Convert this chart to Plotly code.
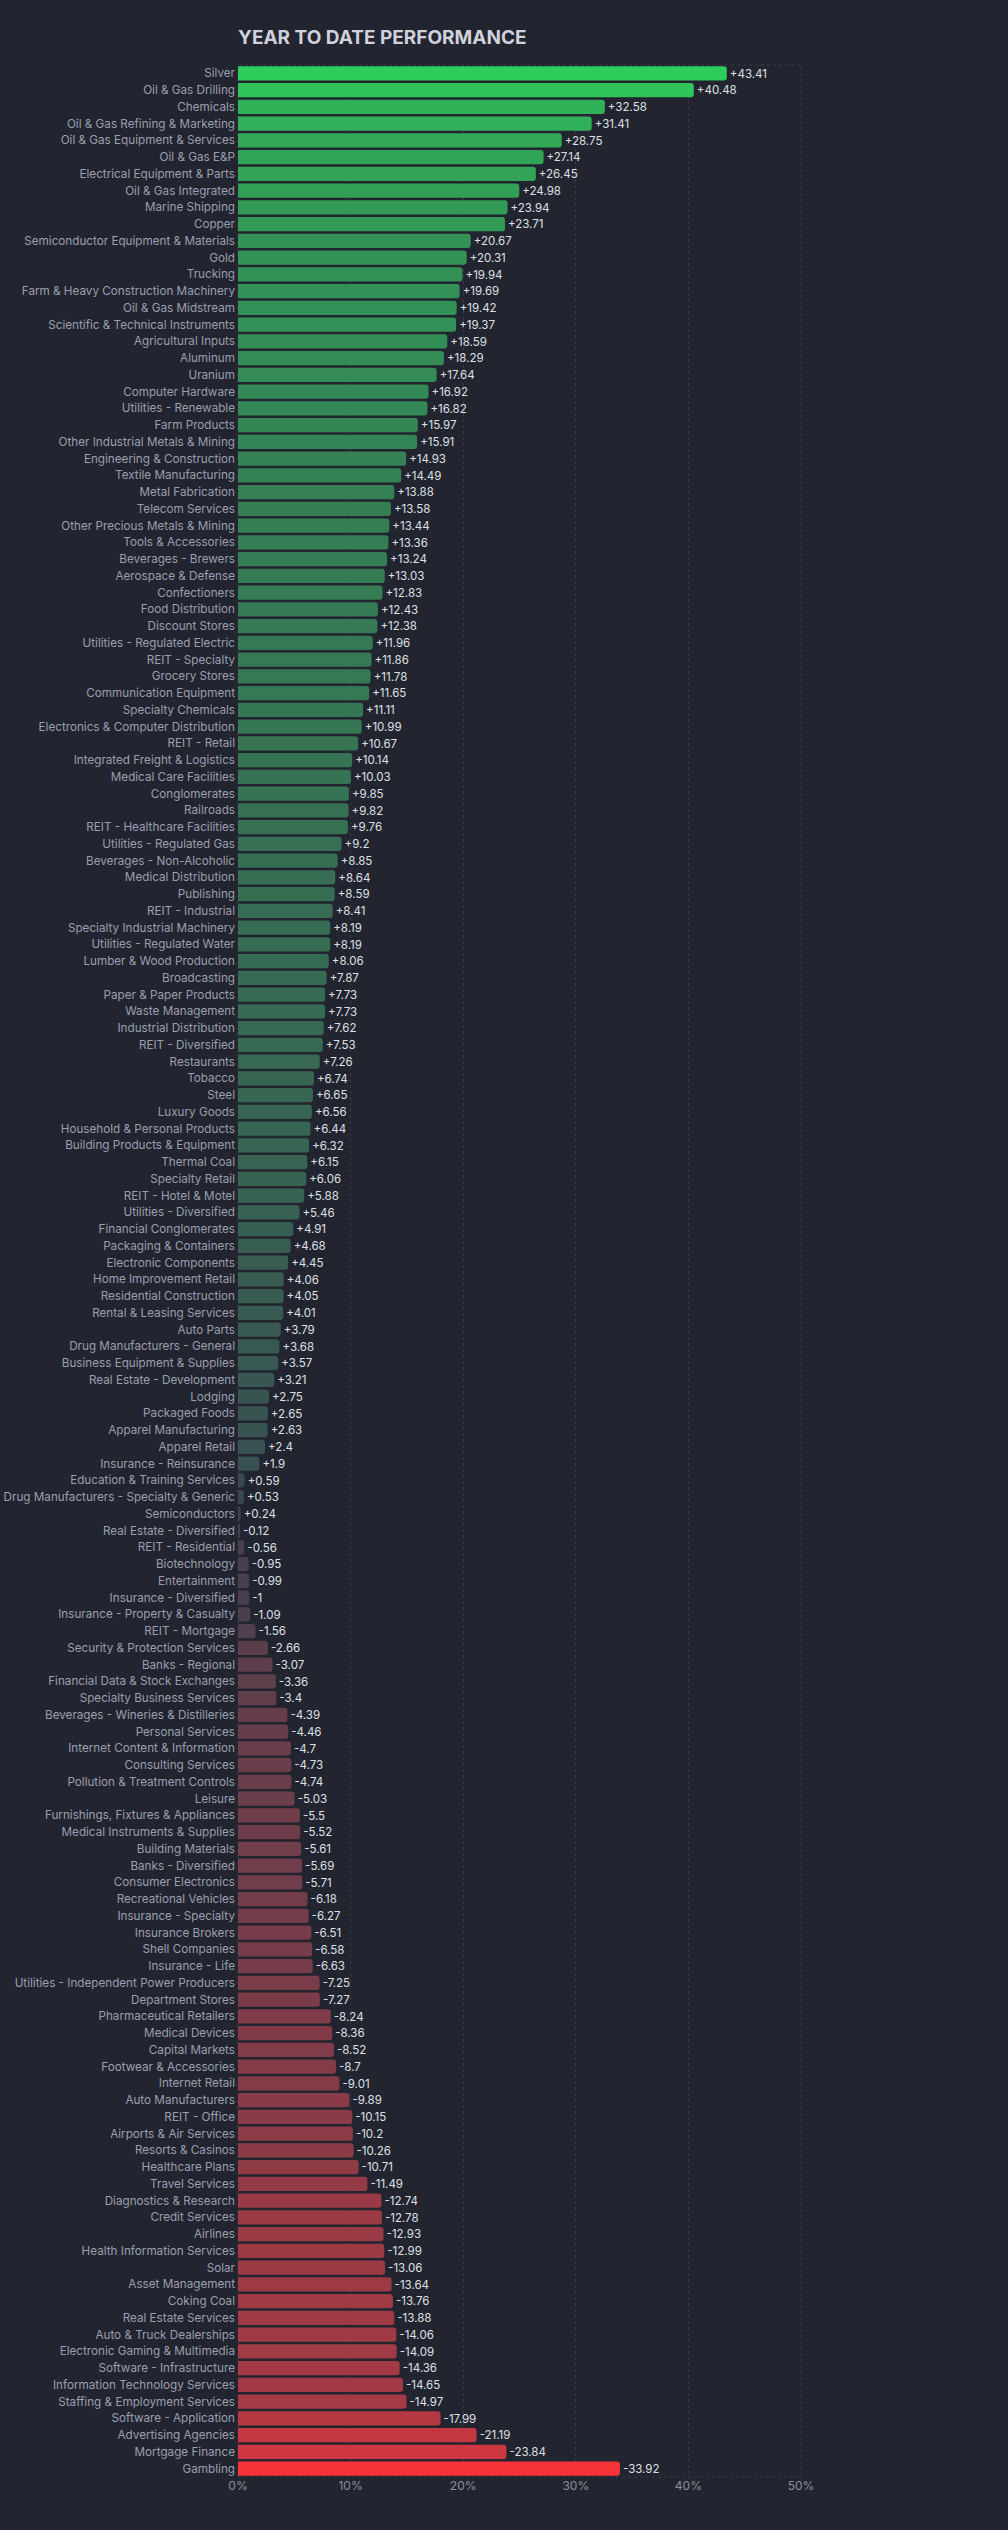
import plotly.graph_objects as go

categories = [
    "Silver", "Oil & Gas Drilling", "Chemicals", "Oil & Gas Refining & Marketing",
    "Oil & Gas Equipment & Services", "Oil & Gas E&P", "Electrical Equipment & Parts",
    "Oil & Gas Integrated", "Marine Shipping", "Copper", "Semiconductor Equipment & Materials",
    "Gold", "Trucking", "Farm & Heavy Construction Machinery", "Oil & Gas Midstream",
    "Scientific & Technical Instruments", "Agricultural Inputs", "Aluminum", "Uranium",
    "Computer Hardware", "Utilities - Renewable", "Farm Products", "Other Industrial Metals & Mining",
    "Engineering & Construction", "Textile Manufacturing", "Metal Fabrication", "Telecom Services",
    "Other Precious Metals & Mining", "Tools & Accessories", "Beverages - Brewers",
    "Aerospace & Defense", "Confectioners", "Food Distribution", "Discount Stores",
    "Utilities - Regulated Electric", "REIT - Specialty", "Grocery Stores", "Communication Equipment",
    "Specialty Chemicals", "Electronics & Computer Distribution", "REIT - Retail",
    "Integrated Freight & Logistics", "Medical Care Facilities", "Conglomerates", "Railroads",
    "REIT - Healthcare Facilities", "Utilities - Regulated Gas", "Beverages - Non-Alcoholic",
    "Medical Distribution", "Publishing", "REIT - Industrial", "Specialty Industrial Machinery",
    "Utilities - Regulated Water", "Lumber & Wood Production", "Broadcasting",
    "Paper & Paper Products", "Waste Management", "Industrial Distribution", "REIT - Diversified",
    "Restaurants", "Tobacco", "Steel", "Luxury Goods", "Household & Personal Products",
    "Building Products & Equipment", "Thermal Coal", "Specialty Retail", "REIT - Hotel & Motel",
    "Utilities - Diversified", "Financial Conglomerates", "Packaging & Containers",
    "Electronic Components", "Home Improvement Retail", "Residential Construction",
    "Rental & Leasing Services", "Auto Parts", "Drug Manufacturers - General",
    "Business Equipment & Supplies", "Real Estate - Development", "Lodging", "Packaged Foods",
    "Apparel Manufacturing", "Apparel Retail", "Insurance - Reinsurance",
    "Education & Training Services", "Drug Manufacturers - Specialty & Generic", "Semiconductors",
    "Real Estate - Diversified", "REIT - Residential", "Biotechnology", "Entertainment",
    "Insurance - Diversified", "Insurance - Property & Casualty", "REIT - Mortgage",
    "Security & Protection Services", "Banks - Regional", "Financial Data & Stock Exchanges",
    "Specialty Business Services", "Beverages - Wineries & Distilleries", "Personal Services",
    "Internet Content & Information", "Consulting Services", "Pollution & Treatment Controls",
    "Leisure", "Furnishings, Fixtures & Appliances", "Medical Instruments & Supplies",
    "Building Materials", "Banks - Diversified", "Consumer Electronics", "Recreational Vehicles",
    "Insurance - Specialty", "Insurance Brokers", "Shell Companies", "Insurance - Life",
    "Utilities - Independent Power Producers", "Department Stores", "Pharmaceutical Retailers",
    "Medical Devices", "Capital Markets", "Footwear & Accessories", "Internet Retail",
    "Auto Manufacturers", "REIT - Office", "Airports & Air Services", "Resorts & Casinos",
    "Healthcare Plans", "Travel Services", "Diagnostics & Research", "Credit Services", "Airlines",
    "Health Information Services", "Solar", "Asset Management", "Coking Coal",
    "Real Estate Services", "Auto & Truck Dealerships", "Electronic Gaming & Multimedia",
    "Software - Infrastructure", "Information Technology Services",
    "Staffing & Employment Services", "Software - Application", "Advertising Agencies",
    "Mortgage Finance", "Gambling",
]

ytd_values = [
    43.41, 40.48, 32.58, 31.41, 28.75, 27.14, 26.45, 24.98, 23.94, 23.71, 20.67, 20.31, 19.94,
    19.69, 19.42, 19.37, 18.59, 18.29, 17.64, 16.92, 16.82, 15.97, 15.91, 14.93, 14.49, 13.88,
    13.58, 13.44, 13.36, 13.24, 13.03, 12.83, 12.43, 12.38, 11.96, 11.86, 11.78, 11.65, 11.11,
    10.99, 10.67, 10.14, 10.03, 9.85, 9.82, 9.76, 9.2, 8.85, 8.64, 8.59, 8.41, 8.19, 8.19, 8.06,
    7.87, 7.73, 7.73, 7.62, 7.53, 7.26, 6.74, 6.65, 6.56, 6.44, 6.32, 6.15, 6.06, 5.88, 5.46,
    4.91, 4.68, 4.45, 4.06, 4.05, 4.01, 3.79, 3.68, 3.57, 3.21, 2.75, 2.65, 2.63, 2.4, 1.9,
    0.59, 0.53, 0.24, -0.12, -0.56, -0.95, -0.99, -1, -1.09, -1.56, -2.66, -3.07, -3.36, -3.4,
    -4.39, -4.46, -4.7, -4.73, -4.74, -5.03, -5.5, -5.52, -5.61, -5.69, -5.71, -6.18, -6.27,
    -6.51, -6.58, -6.63, -7.25, -7.27, -8.24, -8.36, -8.52, -8.7, -9.01, -9.89, -10.15, -10.2,
    -10.26, -10.71, -11.49, -12.74, -12.78, -12.93, -12.99, -13.06, -13.64, -13.76, -13.88,
    -14.06, -14.09, -14.36, -14.65, -14.97, -17.99, -21.19, -23.84, -33.92,
]

x_tick_values = [0, 10, 20, 30, 40, 50]
x_tick_labels = ["0%", "10%", "20%", "30%", "40%", "50%"]

BG = "#22252f"
NEUTRAL = (58, 64, 80)
GREEN = (46, 204, 90)
RED = (247, 52, 58)

max_pos = max(v for v in ytd_values if v > 0)
max_neg = max(-v for v in ytd_values if v < 0)


def bar_color(v):
    if v >= 0:
        t, target = (v / max_pos), GREEN
    else:
        t, target = (-v / max_neg), RED
    t = t ** 0.7
    r, g, b = (round(n + t * (c - n)) for n, c in zip(NEUTRAL, target))
    return f"rgb({r},{g},{b})"


colors = [bar_color(v) for v in ytd_values]
labels = [f"{v:+g}" for v in ytd_values]
lengths = [abs(v) for v in ytd_values]

fig = go.Figure(
    go.Bar(
        x=lengths,
        y=categories,
        orientation="h",
        marker=dict(color=colors, line=dict(width=0)),
        text=labels,
        textposition="outside",
        textfont=dict(family="Inter", size=12, color="#dfe0e6"),
        cliponaxis=False,
        hoverinfo="skip",
    )
)

fig.update_layout(
    width=1008,
    height=2530,
    paper_bgcolor=BG,
    plot_bgcolor=BG,
    margin=dict(l=238, r=207, t=65, b=53, autoexpand=False),
    bargap=0.14,
    barcornerradius=3,
    showlegend=False,
    font=dict(family="Inter", size=12, color="#9a9fb0"),
    title=dict(
        text="<b>YEAR TO DATE PERFORMANCE</b>",
        font=dict(family="Inter", size=19, color="#cfd1db"),
        x=238 / 1008,
        xanchor="left",
        y=1 - 37 / 2530,
        yanchor="middle",
    ),
    xaxis=dict(
        range=[0, 50],
        tickvals=x_tick_values,
        ticktext=x_tick_labels,
        showgrid=True,
        gridcolor="#363a47",
        griddash="dot",
        gridwidth=1,
        zeroline=False,
        showline=False,
        ticks="",
        automargin=False,
        tickfont=dict(family="Inter", size=12, color="#8a8fa0"),
    ),
    yaxis=dict(
        autorange="reversed",
        showgrid=False,
        zeroline=False,
        ticks="",
        automargin=False,
        ticklabelstandoff=2,
        tickfont=dict(family="Inter", size=11.7, color="#9a9fb0"),
    ),
    shapes=[
        dict(
            type="rect", xref="paper", yref="paper", x0=0, x1=1, y0=0, y1=1,
            line=dict(color="#363a47", width=1, dash="dot"), layer="below",
        )
    ],
)

fig.write_html("out.html")
